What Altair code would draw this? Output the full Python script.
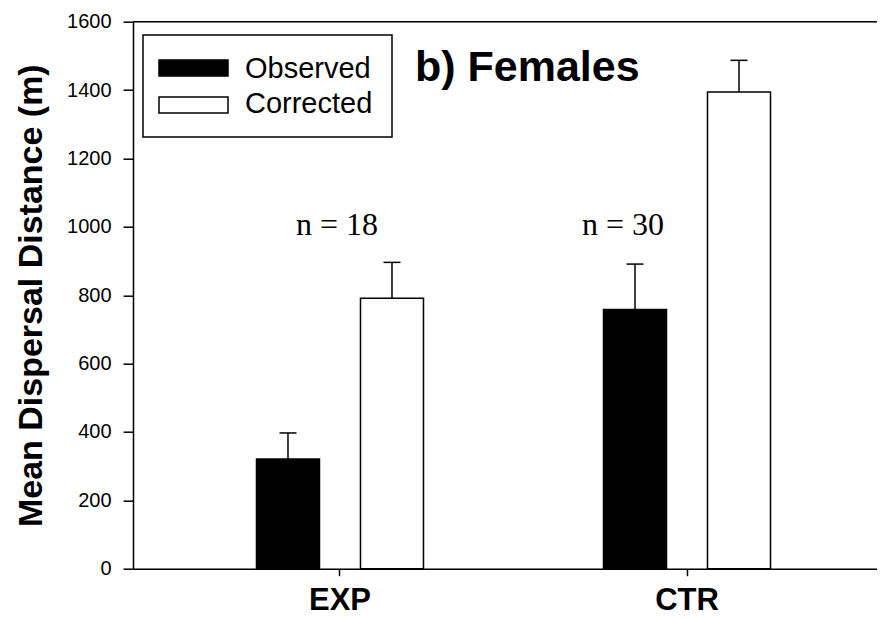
import altair as alt
import pandas as pd

groups = ["EXP", "CTR"]
series = ["Observed", "Corrected"]
observed = [321, 758]
observed_err = [76, 133]
corrected = [791, 1394]
corrected_err = [105, 93]
n_labels = ["n = 18", "n = 30"]
n_label_y = [976, 976]
y_ticks = [0, 200, 400, 600, 800, 1000, 1200, 1400, 1600]

rows = []
for i, g in enumerate(groups):
    rows.append({"group": g, "series": "Observed", "mean": observed[i],
                 "upper": observed[i] + observed_err[i]})
    rows.append({"group": g, "series": "Corrected", "mean": corrected[i],
                 "upper": corrected[i] + corrected_err[i]})
df = pd.DataFrame(rows)
ndf = pd.DataFrame({"group": groups, "label": n_labels, "y": n_label_y})

W, H = 744, 547
FONT = "Liberation Sans"

x_enc = alt.X("group:N", sort=groups,
              scale=alt.Scale(domain=groups, paddingInner=0, paddingOuter=0.072, align=0.67),
              axis=alt.Axis(title=None, labelAngle=0, labelFont=FONT, labelFontWeight="bold",
                            labelFontSize=31, labelColor="black", tickSize=7, tickWidth=1.5,
                            tickColor="black", domainColor="black", domainWidth=1.5,
                            labelPadding=10, grid=False))
xo_enc = alt.XOffset("series:N", sort=series,
                     scale=alt.Scale(domain=series, paddingInner=0.3942, paddingOuter=0.8654))
y_scale = alt.Scale(domain=[0, 1600], nice=False, zero=True)
y_enc = alt.Y("mean:Q", scale=y_scale,
              axis=alt.Axis(title="Mean Dispersal Distance (m)", values=y_ticks, format="d",
                            labelFont=FONT, labelFontSize=20, labelColor="black",
                            labelPadding=12, tickSize=10, tickWidth=1.5, tickColor="black",
                            domainColor="black", domainWidth=1.5, grid=False,
                            titleFont=FONT, titleFontWeight="bold", titleFontSize=34,
                            titleColor="black", titlePadding=18))

base = alt.Chart(df)

bars = base.mark_bar(stroke="black", strokeWidth=1.5, size=63).encode(
    x=x_enc, xOffset=xo_enc, y=y_enc,
    fill=alt.Fill("series:N", scale=alt.Scale(domain=series, range=["black", "white"]), legend=None),
)
err = base.mark_rule(color="black", strokeWidth=1.5).encode(
    x=alt.X("group:N", sort=groups), xOffset=alt.XOffset("series:N", sort=series),
    y=alt.Y("mean:Q"), y2="upper:Q",
)
caps = base.mark_point(shape="M-1,0L1,0", size=289, filled=False, color="black",
                       strokeWidth=1.5, opacity=1).encode(
    x=alt.X("group:N", sort=groups), xOffset=alt.XOffset("series:N", sort=series),
    y=alt.Y("upper:Q"),
)

ntext1 = alt.Chart(ndf).transform_filter(alt.datum.group == "EXP").mark_text(
    font="Liberation Serif", fontSize=32, color="black", align="center",
    baseline="alphabetic", dx=-3).encode(
    x=alt.X("group:N", sort=groups), y=alt.Y("y:Q"), text="label:N")
ntext2 = alt.Chart(ndf).transform_filter(alt.datum.group == "CTR").mark_text(
    font="Liberation Serif", fontSize=32, color="black", align="center",
    baseline="alphabetic", dx=-64).encode(
    x=alt.X("group:N", sort=groups), y=alt.Y("y:Q"), text="label:N")

# top frame line
top_line = alt.Chart(pd.DataFrame({"a": [0]})).mark_rule(color="black", strokeWidth=1.5).encode(
    x=alt.value(0), x2=alt.value(W), y=alt.value(0))

# legend box
one = pd.DataFrame({"a": [0]})
leg_box = alt.Chart(one).mark_rect(fill="white", stroke="black", strokeWidth=1.5).encode(
    x=alt.value(10), x2=alt.value(259), y=alt.value(13.3), y2=alt.value(115.3))
leg_sw1 = alt.Chart(one).mark_rect(fill="black", stroke="black", strokeWidth=1.5).encode(
    x=alt.value(26), x2=alt.value(95), y=alt.value(38.3), y2=alt.value(54.3))
leg_sw2 = alt.Chart(one).mark_rect(fill="white", stroke="black", strokeWidth=1.5).encode(
    x=alt.value(26), x2=alt.value(95), y=alt.value(75.3), y2=alt.value(91.3))
leg_t1 = alt.Chart(one).mark_text(font=FONT, fontSize=29, color="black", align="left",
                                  baseline="alphabetic", text=series[0]).encode(
    x=alt.value(112), y=alt.value(56.3))
leg_t2 = alt.Chart(one).mark_text(font=FONT, fontSize=29, color="black", align="left",
                                  baseline="alphabetic", text=series[1]).encode(
    x=alt.value(112), y=alt.value(91.3))
title_t = alt.Chart(one).mark_text(font=FONT, fontSize=43, fontWeight="bold", color="black",
                                   align="left", baseline="alphabetic", text="b) Females").encode(
    x=alt.value(282), y=alt.value(59.3))

chart = alt.layer(bars, err, caps, ntext1, ntext2, top_line,
                  leg_box, leg_sw1, leg_sw2, leg_t1, leg_t2, title_t).properties(
    width=W, height=H,
    autosize=alt.AutoSizeParams(type="none"),
    padding={"left": 125, "top": 13.7, "right": 0, "bottom": 50},
).configure_view(stroke=None).configure(background="white")

chart.save("out.html", embed_options={"renderer": "svg", "actions": False})
